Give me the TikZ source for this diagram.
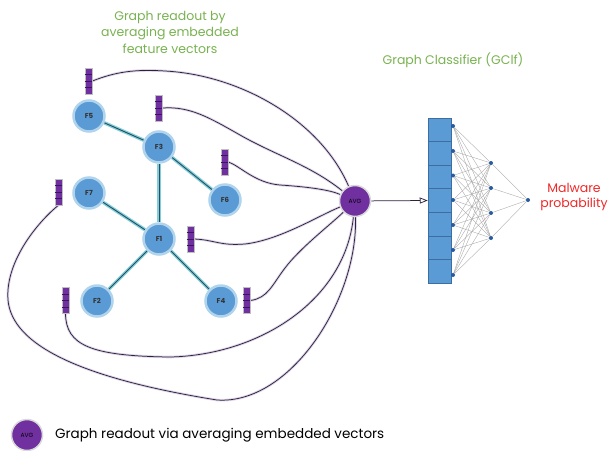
\documentclass[tikz,border=0pt]{standalone}
\usepackage{fontspec}
\setmainfont{Poppins}
\usetikzlibrary{arrows.meta,calc,backgrounds}
\definecolor{nodeblue}{RGB}{91,155,213}
\definecolor{nodeglow}{RGB}{175,212,236}
\definecolor{edgedark}{RGB}{35,80,95}
\definecolor{edgeglow}{RGB}{130,205,220}
\definecolor{vpurple}{RGB}{112,48,160}
\definecolor{vdiv}{RGB}{60,20,100}
\definecolor{curvec}{RGB}{45,35,60}
\definecolor{curveglow}{RGB}{222,212,232}
\definecolor{titlegreen}{RGB}{120,178,80}
\definecolor{colblue}{RGB}{91,155,213}
\definecolor{coldiv}{RGB}{60,110,160}
\definecolor{dotblue}{RGB}{40,90,160}
\definecolor{malred}{RGB}{240,40,40}
\tikzset{
  fnode/.style={circle, fill=nodeblue, draw=nodeglow, line width=2.5pt, minimum size=31pt, inner sep=0pt, font=\fontsize{7}{8}\selectfont\bfseries, text=black!80},
  avgnode/.style={circle, fill=vpurple, draw=black!15, line width=1.5pt, minimum size=31pt, inner sep=0pt, font=\fontsize{6}{7}\selectfont, text=black},
  gedge/.style={draw=edgedark, line width=0.9pt, preaction={draw=edgeglow, line width=3.5pt}},
  vec/.style={rectangle, fill=vpurple, draw=black!25, line width=0.4pt, minimum width=7.5pt, minimum height=26pt, inner sep=0pt},
  bardiv/.style={draw=vdiv, line width=0.6pt},
  readout/.style={draw=curvec, line width=0.75pt, preaction={draw=curveglow, line width=2.6pt}},
  colbox/.style={rectangle, fill=colblue, draw=coldiv, line width=0.5pt, minimum width=23pt, minimum height=165pt, inner sep=0pt},
  nndot/.style={circle, fill=dotblue, inner sep=0pt, minimum size=4pt},
  nnline/.style={draw=black!35, line width=0.35pt},
  ttl/.style={font=\fontsize{12.5}{16.5}\selectfont, text=titlegreen, align=center},
}
\begin{document}
\begin{tikzpicture}[x=1pt,y=-1pt]
\useasboundingbox (0,0) rectangle (609,450);
% titles
\node[ttl] (t1) at (170,32) {Graph readout by\\averaging embedded\\feature vectors};
\node[ttl] (t2) at (453,60) {Graph Classifier (GClf)};
% graph nodes
\node[fnode] (f5) at (89,116) {F5};
\node[fnode] (f3) at (159,147) {F3};
\node[fnode] (f6) at (225,200) {F6};
\node[fnode] (f7) at (89,193) {F7};
\node[fnode] (f1) at (159,239) {F1};
\node[fnode] (f2) at (97,301) {F2};
\node[fnode] (f4) at (221,301) {F4};
\node[avgnode] (avg) at (355,201) {AVG};
\begin{scope}[on background layer]
\draw[gedge] (f5) -- (f3);
\draw[gedge] (f3) -- (f6);
\draw[gedge] (f3) -- (f1);
\draw[gedge] (f7) -- (f1);
\draw[gedge] (f1) -- (f2);
\draw[gedge] (f1) -- (f4);
\end{scope}
% feature vectors
\node[vec] (b5) at (88.5,81) {};
\node[vec] (b3) at (158.5,108) {};
\node[vec] (b6) at (224.5,162) {};
\node[vec] (b7) at (58.5,192) {};
\node[vec] (b1) at (190.5,239) {};
\node[vec] (b2) at (65.5,300.5) {};
\node[vec] (b4) at (246.5,300.5) {};
\foreach \b in {b5,b3,b6,b7,b1,b2,b4}{
  \foreach \k in {1,2,3}{
    \draw[bardiv] ($(\b.north west)!\k/4!(\b.south west)$) -- ($(\b.north east)!\k/4!(\b.south east)$);
  }
}
% readout curves
\begin{scope}[on background layer]
\draw[readout] (b5.east) .. controls (115,72) and (135,69) .. (165,71) .. controls (240,75) and (320,120) .. (avg);
\draw[readout] (b3.east) .. controls (190,106) and (210,118) .. (240,135) .. controls (275,155) and (310,165) .. (avg);
\draw[readout] (b6.east) .. controls (240,166) and (255,183) .. (280,185) .. controls (310,187) and (330,190) .. (avg);
\draw[readout] (b1.east) .. controls (215,240) and (220,246) .. (245,244) .. controls (280,240) and (320,215) .. (avg);
\draw[readout] (b4.east) .. controls (268,298) and (272,285) .. (285,268) .. controls (300,248) and (330,225) .. (avg);
\draw[readout] (b2.south) .. controls (66,345) and (90,356) .. (170,357) .. controls (260,355) and (345,300) .. (avg);
\draw[readout] (b7.south) .. controls (40,220) and (5,260) .. (8,300) .. controls (12,345) and (80,378) .. (217,400) .. controls (290,405) and (358,300) .. (avg);
\end{scope}
% classifier column
\node[colbox] (col) at (439.5,200.5) {};
\foreach \k in {1,...,6}{
  \draw[draw=coldiv, line width=0.6pt] ($(col.north west)!\k/7!(col.south west)$) -- ($(col.north east)!\k/7!(col.south east)$);
}
\draw[draw=curvec, line width=0.75pt, -{Triangle[open, length=8pt, width=6pt]}] (avg) -- (col.west);
% network
\foreach \i/\y in {1/126,2/151,3/175.5,4/200,5/225,6/250,7/275}{
  \node[nndot] (i\i) at (453,\y) {};
}
\foreach \h/\y in {1/163,2/188,3/213,4/238}{
  \node[nndot] (h\h) at (491,\y) {};
}
\node[nndot] (o) at (528,200) {};
\begin{scope}[on background layer]
\foreach \i in {1,...,7}{
  \foreach \h in {1,...,4}{
    \draw[nnline] (i\i) -- (h\h);
  }
}
\foreach \h in {1,...,4}{
  \draw[nnline] (h\h) -- (o);
}
\end{scope}
\node[font=\fontsize{12.5}{15.5}\selectfont, text=malred, align=center] (mal) at (574,197) {Malware\\probability};
% legend
\node[avgnode] (lavg) at (27,435) {AVG};
\node[anchor=west, font=\fontsize{13.5}{15}\selectfont, inner sep=0pt] (ltxt) at (55,435) {Graph readout via averaging embedded vectors};
\end{tikzpicture}
\end{document}
